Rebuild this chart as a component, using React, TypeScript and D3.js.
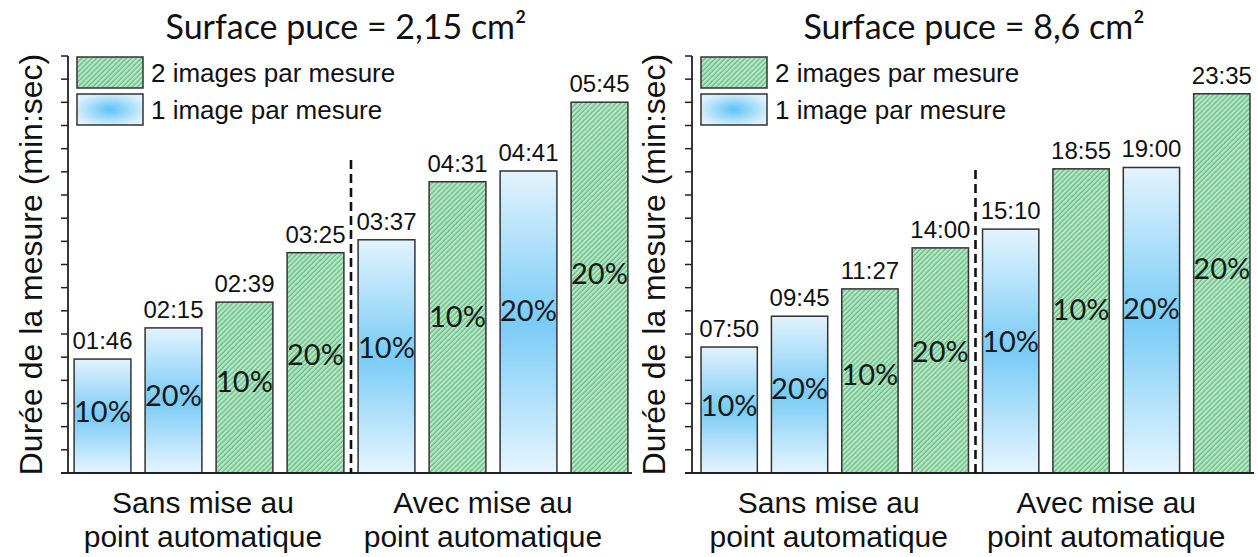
import { useEffect, useRef } from 'react';
import * as d3 from 'd3';

const panelTitles = ['Surface puce = 2,15 cm²', 'Surface puce = 8,6 cm²'];
const groupLabels = [['Sans mise au', 'point automatique'], ['Avec mise au', 'point automatique']];
const legendLabels = ['2 images par mesure', '1 image par mesure'];
const yLabel = 'Durée de la mesure (min:sec)';

// bar order is identical in both panels
const imagesPerMeasure = [1, 1, 2, 2, 1, 2, 1, 2];
const focusStep = ['10%', '20%', '10%', '20%', '10%', '10%', '20%', '20%'];
const durationsSmall = ['01:46', '02:15', '02:39', '03:25', '03:37', '04:31', '04:41', '05:45'];
const durationsLarge = ['07:50', '09:45', '11:27', '14:00', '15:10', '18:55', '19:00', '23:35'];
const yMaxSeconds = [388, 1556];

const toSeconds = (s: string) => {
  const [m, sec] = s.split(':').map(Number);
  return m * 60 + sec;
};

const W = 1258;
const H = 557;

export default function App() {
  const svgRef = useRef<SVGSVGElement>(null);

  useEffect(() => {
    if (!svgRef.current) return;
    const svg = d3.select(svgRef.current);
    svg.selectAll('*').remove();

    const defs = svg.append('defs');
    // bars: light at top and bottom, brighter blue in the middle
    const grad = defs.append('linearGradient')
      .attr('id', 'blueBar')
      .attr('x1', 0).attr('x2', 0).attr('y1', 0).attr('y2', 1);
    grad.append('stop').attr('offset', '0%').attr('stop-color', '#e2f3fd');
    grad.append('stop').attr('offset', '50%').attr('stop-color', '#79cbf6');
    grad.append('stop').attr('offset', '100%').attr('stop-color', '#e6f5fe');

    const rgrad = defs.append('radialGradient')
      .attr('id', 'blueLegend')
      .attr('cx', '50%').attr('cy', '50%').attr('r', '55%');
    rgrad.append('stop').attr('offset', '0%').attr('stop-color', '#5cc3f7');
    rgrad.append('stop').attr('offset', '100%').attr('stop-color', '#dcf0fc');

    const hatch = defs.append('pattern')
      .attr('id', 'hatch')
      .attr('patternUnits', 'userSpaceOnUse')
      .attr('width', 3.5).attr('height', 3.5)
      .attr('patternTransform', 'rotate(45)');
    hatch.append('rect').attr('width', 3.5).attr('height', 3.5).attr('fill', '#b6e8c6');
    hatch.append('line')
      .attr('x1', 1).attr('x2', 1).attr('y1', 0).attr('y2', 3.5)
      .attr('stroke', '#45a566').attr('stroke-width', 0.9);

    const fill = (n: number, legend = false) =>
      n === 2 ? 'url(#hatch)' : legend ? 'url(#blueLegend)' : 'url(#blueBar)';

    const baseY = 473;
    const topY = 56;

    const panels = [
      { axisX: 68, range: [67, 635], durations: durationsSmall, yMax: yMaxSeconds[0], title: panelTitles[0], titleX: 346, dashTop: 160, labelX: 42 },
      { axisX: 692, range: [694, 1257], durations: durationsLarge, yMax: yMaxSeconds[1], title: panelTitles[1], titleX: 974, dashTop: 170, labelX: 665 },
    ];

    panels.forEach(p => {
      const g = svg.append('g');
      const values = p.durations.map(toSeconds);

      const x = d3.scaleBand<number>()
        .domain(d3.range(values.length))
        .range(p.range as [number, number])
        .paddingInner(0.2)
        .paddingOuter(0.1);

      const y = d3.scaleLinear()
        .domain([0, p.yMax])
        .range([baseY, topY]);

      // title
      g.append('text')
        .attr('x', p.titleX)
        .attr('y', 39)
        .attr('text-anchor', 'middle')
        .style('font-family', 'Lato, "Open Sans", sans-serif')
        .style('font-size', '34px')
        .style('fill', '#111')
        .text(p.title);

      // y label
      g.append('text')
        .attr('transform', `translate(${p.labelX},${(baseY + topY) / 2}) rotate(-90)`)
        .attr('text-anchor', 'middle')
        .style('font-family', '"Liberation Sans", Arial, sans-serif')
        .style('font-size', '32px')
        .style('fill', '#111')
        .text(yLabel);

      // bars
      const bw = x.bandwidth();
      g.selectAll('.bar')
        .data(values)
        .join('rect')
        .attr('class', 'bar')
        .attr('x', (_, i) => x(i)!)
        .attr('y', d => y(d))
        .attr('width', bw)
        .attr('height', d => baseY - y(d))
        .attr('fill', (_, i) => fill(imagesPerMeasure[i]))
        .attr('stroke', '#333')
        .attr('stroke-width', 1.5);

      // duration labels
      g.selectAll('.val')
        .data(p.durations)
        .join('text')
        .attr('class', 'val')
        .attr('x', (_, i) => x(i)! + bw / 2)
        .attr('y', (_, i) => y(values[i]) - 10)
        .attr('text-anchor', 'middle')
        .style('font-family', '"Liberation Sans", Arial, sans-serif')
        .style('font-size', '24px')
        .style('fill', '#111')
        .text(d => d);

      // percent labels inside bars
      g.selectAll('.pct')
        .data(focusStep)
        .join('text')
        .attr('class', 'pct')
        .attr('x', (_, i) => x(i)! + bw / 2)
        .attr('y', (_, i) => baseY - 0.54 * (baseY - y(values[i])) + 11)
        .attr('text-anchor', 'middle')
        .style('font-family', 'Lato, "Open Sans", sans-serif')
        .style('font-size', '29px')
        .style('fill', '#141a1a')
        .text(d => d);

      // axis
      const ticks = d3.range(0, 19).map(i => (i * p.yMax) / 18);
      g.selectAll('.tick')
        .data(ticks)
        .join('line')
        .attr('class', 'tick')
        .attr('x1', p.axisX - 7)
        .attr('x2', p.axisX)
        .attr('y1', d => y(d))
        .attr('y2', d => y(d))
        .attr('stroke', '#222')
        .attr('stroke-width', 1.5);

      g.append('line')
        .attr('x1', p.axisX).attr('x2', p.axisX)
        .attr('y1', topY).attr('y2', baseY)
        .attr('stroke', '#222').attr('stroke-width', 1.8);
      g.append('line')
        .attr('x1', p.axisX - 7).attr('x2', p.range[1] - 3)
        .attr('y1', baseY).attr('y2', baseY)
        .attr('stroke', '#222').attr('stroke-width', 1.8);

      // separator between groups
      const sepX = (x(3)! + bw + x(4)!) / 2;
      g.append('line')
        .attr('x1', sepX).attr('x2', sepX)
        .attr('y1', p.dashTop).attr('y2', baseY)
        .attr('stroke', '#111')
        .attr('stroke-width', 2.6)
        .attr('stroke-dasharray', '9,5');

      // group labels
      groupLabels.forEach((lines, gi) => {
        const cx = (x(gi * 4)! + x(gi * 4 + 3)! + bw) / 2 - 6 - gi * 4;
        const t = g.append('text')
          .attr('text-anchor', 'middle')
          .style('font-family', '"Liberation Sans", Arial, sans-serif')
          .style('font-size', '30px')
          .style('fill', '#111');
        lines.forEach((l, li) => {
          t.append('tspan').attr('x', cx).attr('y', 513 + li * 34).text(l);
        });
      });

      // legend
      const lx = p.axisX + 9;
      [2, 1].forEach((n, li) => {
        const ly = 57 + li * 37;
        g.append('rect')
          .attr('x', lx).attr('y', ly)
          .attr('width', 66).attr('height', 31)
          .attr('fill', fill(n, true))
          .attr('stroke', '#333').attr('stroke-width', 1.5);
        g.append('text')
          .attr('x', lx + 74).attr('y', ly + 25)
          .style('font-family', '"Liberation Sans", Arial, sans-serif')
          .style('font-size', '26px')
          .style('fill', '#111')
          .text(legendLabels[li]);
      });
    });
  }, []);

  return (
    <div style={{ position: 'absolute', left: 0, top: 0, background: '#fff' }}>
      <svg ref={svgRef} width={W} height={H} style={{ display: 'block' }} />
    </div>
  );
}
